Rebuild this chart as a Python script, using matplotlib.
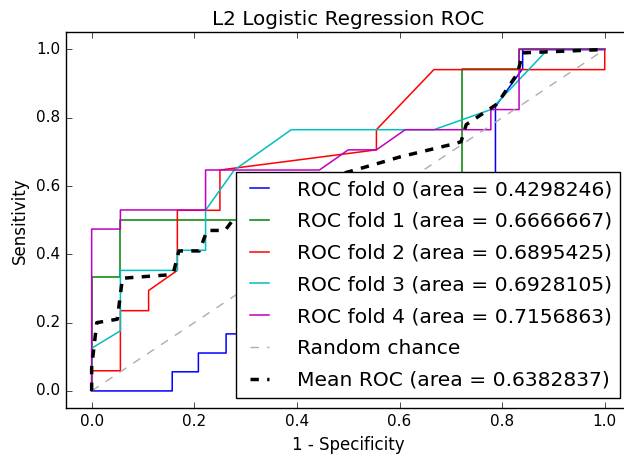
import matplotlib
matplotlib.use("Agg")
import matplotlib.pyplot as plt

plt.style.use("classic")

# ---- data ----
fold0_fpr = [0.0, 0.157, 0.157, 0.208, 0.208, 0.262, 0.262, 0.35, 0.35, 0.45, 0.45, 0.55, 0.55, 0.65, 0.65, 0.787, 0.787, 0.84, 0.84, 1.0]
fold0_tpr = [0.0, 0.0, 0.056, 0.056, 0.111, 0.111, 0.167, 0.167, 0.278, 0.278, 0.389, 0.389, 0.5, 0.5, 0.611, 0.611, 0.833, 0.944, 1.0, 1.0]

fold1_fpr = [0.0, 0.0, 0.056, 0.056, 0.333, 0.333, 0.722, 0.722, 0.833, 0.833, 1.0]
fold1_tpr = [0.0, 0.333, 0.333, 0.5, 0.5, 0.611, 0.611, 0.944, 0.944, 1.0, 1.0]

fold2_fpr = [0.0, 0.0, 0.056, 0.056, 0.111, 0.111, 0.167, 0.167, 0.25, 0.25, 0.555, 0.555, 0.667, 1.0, 1.0]
fold2_tpr = [0.0, 0.059, 0.059, 0.235, 0.235, 0.294, 0.353, 0.529, 0.529, 0.647, 0.706, 0.765, 0.941, 0.941, 1.0]

fold3_fpr = [0.0, 0.0, 0.056, 0.056, 0.167, 0.167, 0.222, 0.222, 0.278, 0.389, 0.667, 0.778, 0.889, 1.0]
fold3_tpr = [0.0, 0.125, 0.176, 0.353, 0.353, 0.412, 0.412, 0.529, 0.647, 0.765, 0.765, 0.824, 1.0, 1.0]

fold4_fpr = [0.0, 0.0, 0.056, 0.056, 0.222, 0.222, 0.444, 0.5, 0.555, 0.611, 0.778, 0.778, 0.833, 0.833, 1.0]
fold4_tpr = [0.0, 0.474, 0.474, 0.53, 0.53, 0.647, 0.647, 0.706, 0.706, 0.765, 0.765, 0.824, 0.824, 1.0, 1.0]

mean_fpr = [0.0, 0.0, 0.01, 0.05, 0.06, 0.15, 0.16, 0.17, 0.21, 0.225, 0.26, 0.28, 0.33, 0.45, 0.555, 0.6, 0.71, 0.72, 0.73, 0.78, 0.79, 0.83, 0.84, 1.0]
mean_tpr = [0.0, 0.07, 0.2, 0.21, 0.33, 0.34, 0.35, 0.41, 0.41, 0.47, 0.47, 0.51, 0.55, 0.62, 0.665, 0.685, 0.725, 0.73, 0.78, 0.83, 0.84, 0.93, 0.99, 1.0]

fold_aucs = ["0.4298246", "0.6666667", "0.6895425", "0.6928105", "0.7156863"]
mean_auc = "0.6382837"
fold_colors = ["b", "g", "r", "c", "m"]

folds = [(fold0_fpr, fold0_tpr), (fold1_fpr, fold1_tpr), (fold2_fpr, fold2_tpr),
         (fold3_fpr, fold3_tpr), (fold4_fpr, fold4_tpr)]

fig = plt.figure(figsize=(6.24, 4.59), dpi=100, facecolor="white")
ax = fig.add_axes([66 / 624, (459 - 408) / 459, (630.4 - 66) / 624, (408 - 32.4) / 459])
ax.set_facecolor("white")

for i, ((fpr, tpr), auc, col) in enumerate(zip(folds, fold_aucs, fold_colors)):
    ax.plot(fpr, tpr, color=col, lw=1.1, label="ROC fold %d (area = %s)" % (i, auc))

ax.plot([0, 1], [0, 1], "--", color="0.68", lw=1, label="Random chance")
ax.plot(mean_fpr, mean_tpr, "k--", lw=2.5, label="Mean ROC (area = %s)" % mean_auc)

ax.set_xlim(-0.05, 1.05)
ax.set_ylim(-0.05, 1.05)
ax.set_xticks([0.0, 0.2, 0.4, 0.6, 0.8, 1.0])
ax.set_yticks([0.0, 0.2, 0.4, 0.6, 0.8, 1.0])
ax.tick_params(labelsize=11)
ax.set_xlabel("1 - Specificity", fontsize=12)
ax.set_ylabel("Sensitivity", fontsize=12)
ax.set_title("L2 Logistic Regression ROC", fontsize=14.4, pad=5.5)

leg = ax.legend(loc="lower right", fontsize=14.6, handlelength=1.5, numpoints=2,
                handletextpad=1.1, labelspacing=0.63)
leg.get_frame().set_facecolor("white")

fig.savefig("out.png", dpi=100, facecolor="white")
